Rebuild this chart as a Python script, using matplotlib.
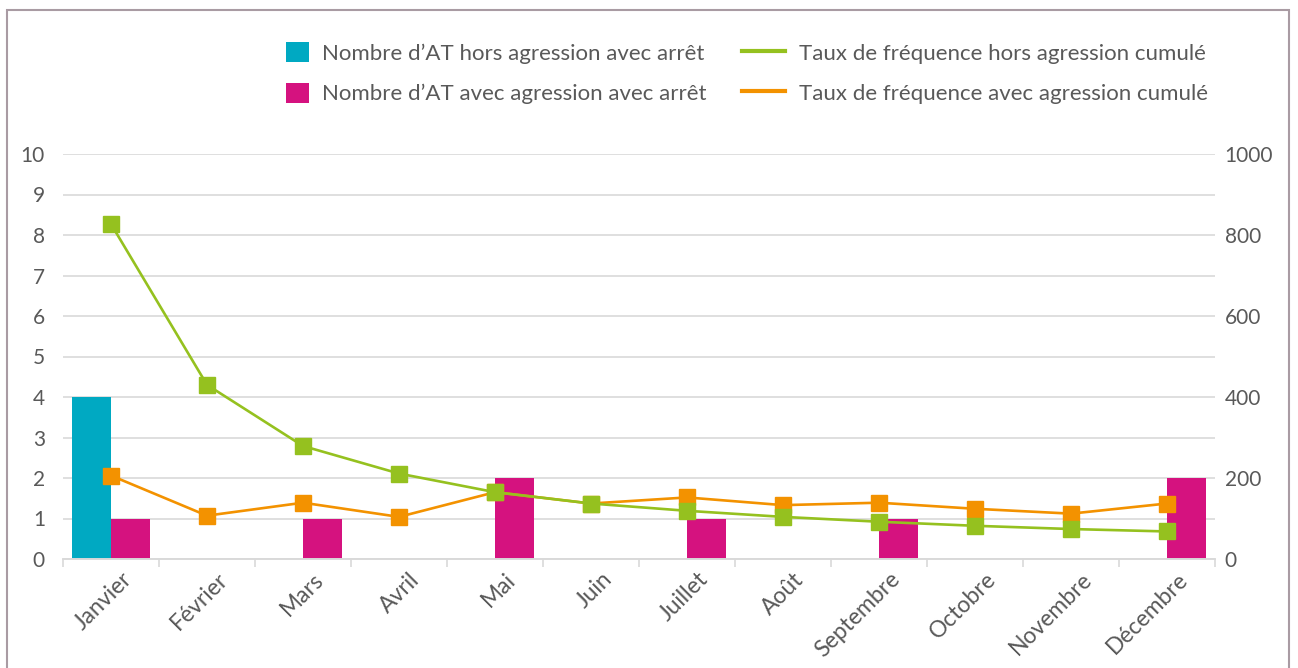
import matplotlib.pyplot as plt
import matplotlib.transforms as mtransforms
import numpy as np
from matplotlib.lines import Line2D
from matplotlib.patches import Rectangle

plt.rcParams["font.family"] = ["Lato", "DejaVu Sans"]

mois = ["Janvier", "Février", "Mars", "Avril", "Mai", "Juin", "Juillet",
        "Août", "Septembre", "Octobre", "Novembre", "Décembre"]
at_hors_agression = [4, 0, 0, 0, 0, 0, 0, 0, 0, 0, 0, 0]
at_avec_agression = [1, 0, 1, 0, 2, 0, 1, 0, 1, 0, 0, 2]
tf_hors_agression = [827, 430, 279, 211, 165, 137, 119, 104, 92, 82, 74, 68]
tf_avec_agression = [206, 107, 139, 104, 165, 137, 152, 133, 139, 124, 112, 137]

TEAL = "#00A9C2"
MAGENTA = "#D5127F"
GREEN = "#95C11F"
ORANGE = "#F39200"
TXT = "#595959"
GRID = "#D9D9D9"
FS = 15
LEG_FS = 16

W, H = 1298, 668
fig = plt.figure(figsize=(W / 100, H / 100), dpi=100)
ax = fig.add_axes([63 / W, 1 - 559 / H, (1215 - 63) / W, (559 - 154) / H])
ax2 = ax.twinx()

x = np.arange(len(mois))
w = 0.405
b1 = ax.bar(x - w / 2, at_hors_agression, w, color=TEAL, zorder=2,
            label="Nombre d’AT hors agression avec arrêt")
b2 = ax.bar(x + w / 2, at_avec_agression, w, color=MAGENTA, zorder=2,
            label="Nombre d’AT avec agression avec arrêt")

ax2.plot(x, tf_hors_agression, color=GREEN, lw=1.9, marker="s", ms=11, zorder=3)
ax2.plot(x, tf_avec_agression, color=ORANGE, lw=1.9, marker="s", ms=11, zorder=2)

ax.set_xlim(-0.5, len(mois) - 0.5)
ax.set_ylim(0, 10)
ax2.set_ylim(0, 1000)
ax.set_yticks(range(0, 11))
ax2.set_yticks(range(0, 1001, 200))

ax.yaxis.grid(True, color=GRID, lw=1.2, zorder=0)
ax.set_axisbelow(True)
for a in (ax, ax2):
    for s in ("top", "left", "right"):
        a.spines[s].set_visible(False)
    a.spines["bottom"].set_color(GRID)
    a.spines["bottom"].set_linewidth(1.2)
    a.tick_params(axis="y", length=0, labelsize=FS, labelcolor=TXT)

ax.tick_params(axis="y", pad=13)
ax2.tick_params(axis="y", pad=7)

ax.set_xticks(x)
ax.set_xticklabels(mois, rotation=45, ha="right", va="top", rotation_mode="anchor",
                   fontsize=16.5, color=TXT)
ax.tick_params(axis="x", length=0, pad=7)
shift = mtransforms.ScaledTranslation(0.10, 0, fig.dpi_scale_trans)
for lab in ax.get_xticklabels():
    lab.set_transform(lab.get_transform() + shift)
ax.set_xticks(np.arange(-0.5, len(mois), 1), minor=True)
ax.tick_params(axis="x", which="minor", length=6, color=GRID, width=1.2)

# two legends so the bar squares and the line handles get their own lengths
fig.legend(handles=[b1, b2], loc="upper left",
           bbox_to_anchor=(286 / W, 1 - 42 / H), frameon=False,
           borderpad=0, borderaxespad=0,
           fontsize=LEG_FS, labelcolor=TXT, handlelength=1.05, handleheight=1.0,
           labelspacing=0.86, handletextpad=0.55)
h_l1 = Line2D([], [], color=GREEN, lw=3, label="Taux de fréquence hors agression cumulé")
h_l2 = Line2D([], [], color=ORANGE, lw=3, label="Taux de fréquence avec agression cumulé")
fig.legend(handles=[h_l1, h_l2], loc="upper left",
           bbox_to_anchor=(742 / W, 1 - 42 / H), frameon=False,
           borderpad=0, borderaxespad=0,
           fontsize=LEG_FS, labelcolor=TXT, handlelength=1.95, handleheight=1.0,
           labelspacing=0.86, handletextpad=0.6)

fig.add_artist(Rectangle((7 / W, -0.05), (1289 - 7) / W, 1.05 - 10 / H,
                         transform=fig.transFigure, fill=False,
                         edgecolor="#A99BA3", lw=1.5))

fig.savefig("out.png", dpi=100)
